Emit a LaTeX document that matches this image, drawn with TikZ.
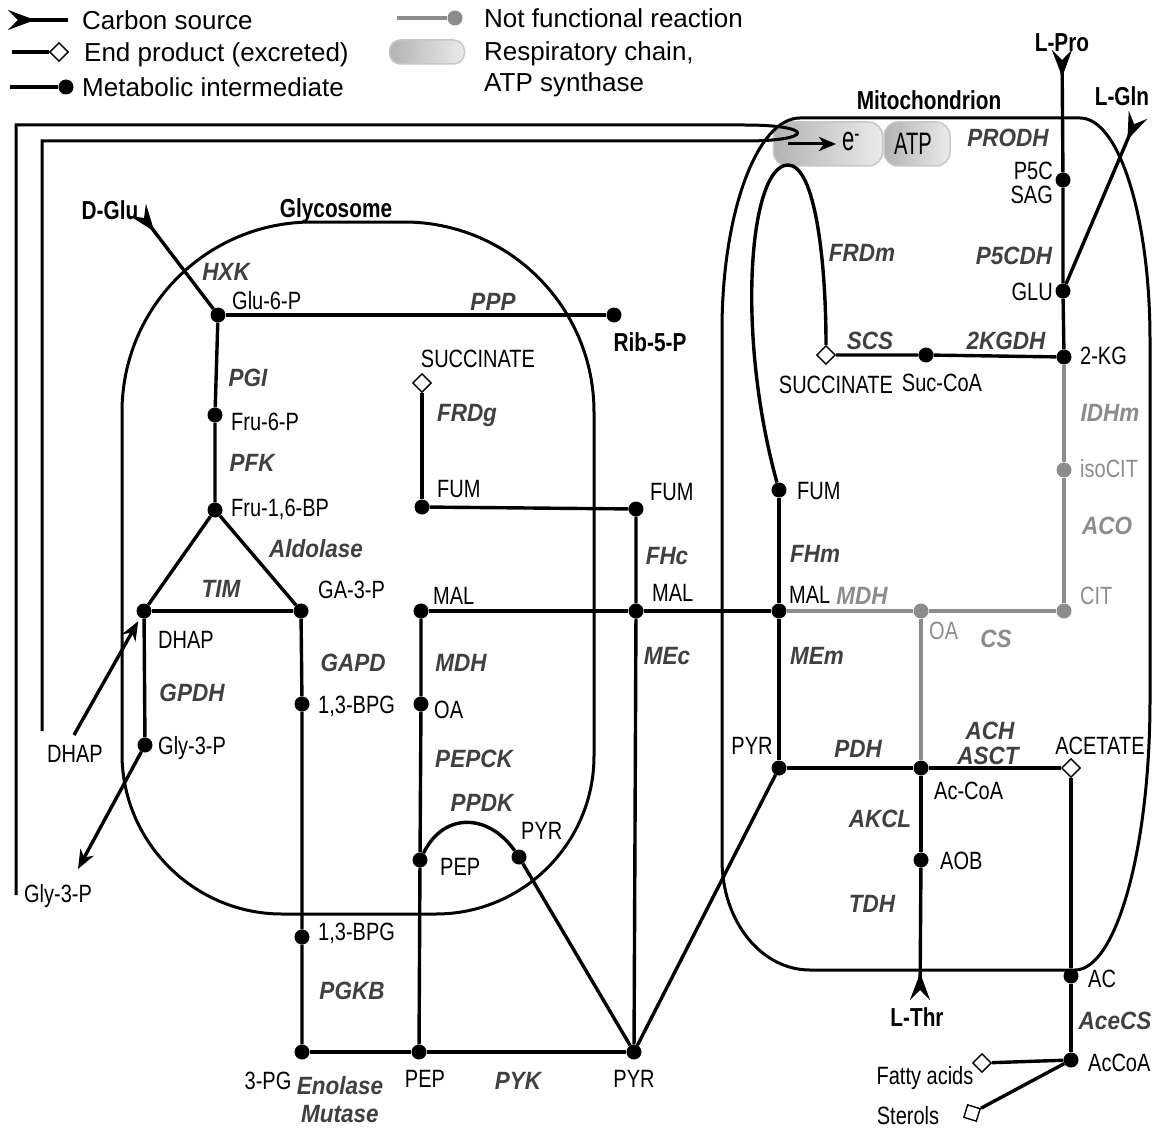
\documentclass[tikz,border=0pt]{standalone}
\usepackage{fontspec}
\setmainfont{Liberation Sans}
\newfontfamily\cond{Liberation Sans}[FakeStretch=0.8]
\newfontfamily\condb{Liberation Sans}[FakeStretch=0.9]
\newfontfamily\narrowf{Liberation Sans}[FakeStretch=0.65]
\usetikzlibrary{arrows.meta,shapes.geometric}
\definecolor{enzc}{RGB}{64,64,64}
\definecolor{nfc}{RGB}{140,140,140}
\begin{document}
\begin{tikzpicture}[x=1pt,y=-1pt,
  pth/.style={line width=3.4pt},
  nf/.style={line width=3.4pt, draw=nfc},
  memb/.style={line width=3pt},
  dot/.style={circle, fill=black, minimum size=15pt, inner sep=0pt},
  gdot/.style={circle, fill=nfc, minimum size=15pt, inner sep=0pt},
  endp/.style={diamond, draw, fill=white, line width=1.4pt, minimum size=19pt, inner sep=0pt},
  src/.style={line width=3.4pt, {Stealth[length=27pt,width=20pt,inset=10pt,reversed]}-},
  exa/.style={line width=3.4pt, -{Stealth[length=19pt,width=15pt,inset=6pt]}},
  pill/.style={rectangle, rounded corners=14pt, left color=black!30, right color=black!8, draw=black!22, line width=1.5pt, inner sep=0pt},
  met/.style={font=\cond\fontsize{25}{28}\selectfont, inner sep=0pt, text height=18pt, text depth=0pt},
  gmet/.style={met, text=nfc},
  enz/.style={font=\condb\bfseries\itshape\fontsize{25}{28}\selectfont, text=enzc, inner sep=0pt, text height=18pt, text depth=0pt},
  genz/.style={enz, text=nfc},
  ttl/.style={font=\cond\bfseries\fontsize{26}{29}\selectfont, inner sep=0pt, text height=18.6pt, text depth=0pt},
  leg/.style={font=\fontsize{26}{30}\selectfont, inner sep=0pt, text height=18.6pt, text depth=0pt, anchor=west}
]
\useasboundingbox (0,0) rectangle (1157,1129);

% ---------- membranes ----------
\draw[memb] (122,412) .. controls (122,307) and (207,222) .. (312,222) -- (404,222)
  .. controls (509,222) and (594,307) .. (594,412) -- (594,756)
  .. controls (594,843) and (523,914) .. (436,914) -- (282,914)
  .. controls (194,914) and (122,842) .. (122,754) -- cycle;
\node[pill, minimum width=109pt, minimum height=44pt] (echain) at (828,144) {};
\node[pill, minimum width=66pt, minimum height=44pt] (atps) at (917,144) {};
\draw[memb] (722,330) .. controls (722,213) and (757,118) .. (800,118) -- (1080,118)
  .. controls (1119,118) and (1150,217) .. (1150,340) -- (1150,700)
  .. controls (1150,849) and (1116,970) .. (1075,970) -- (810,970)
  .. controls (761,970) and (722,921) .. (722,860) -- cycle;
\draw[memb] (16,895) -- (16,125) -- (745,125) .. controls (815,125) and (815,141) .. (745,141) -- (42,141) -- (42,731);

\coordinate (earrA) at (788,144);
\coordinate (earrB) at (836,144);
\draw[line width=3pt, -{Stealth[length=17pt,width=14pt,inset=5pt]}] (earrA) -- (earrB);
\node[font=\narrowf\fontsize{34}{36}\selectfont, inner sep=0pt] (etxt) at (851,142) {e\textsuperscript{-}};
\node[font=\narrowf\fontsize{31}{34}\selectfont, inner sep=0pt, text height=22pt, text depth=0pt] (atptxt) at (913,144) {ATP};

% ---------- legend ----------
\coordinate (lg1a) at (8,20); \coordinate (lg1b) at (68,20);
\draw[src] (lg1a) -- (lg1b);
\node[endp] (lg2d) at (59,52) {}; \coordinate (lg2a) at (12,52);
\draw[pth] (lg2a) -- (lg2d);
\node[dot] (lg3d) at (66,87) {}; \coordinate (lg3a) at (10,87);
\draw[pth] (lg3a) -- (lg3d);
\node[gdot] (lg4d) at (455,18) {}; \coordinate (lg4a) at (397,18);
\draw[nf] (lg4a) -- (lg4d);
\node[pill, minimum width=75pt, minimum height=24pt, rounded corners=11pt] (lg5) at (427,52) {};
\node[leg] (lt1) at (82,20) {Carbon source};
\node[leg] (lt2) at (84,52) {End product (excreted)};
\node[leg] (lt3) at (82,87) {Metabolic intermediate};
\node[leg] (lt4) at (484,18) {Not functional reaction};
\node[leg] (lt5) at (484,51) {Respiratory chain,};
\node[leg] (lt6) at (484,82) {ATP synthase};

% ---------- metabolite nodes ----------
\node[dot] (g6p) at (218,315) {};
\node[dot] (rib) at (614,315) {};
\node[dot] (f6p) at (215,415) {};
\node[dot] (f16bp) at (215,510) {};
\node[dot] (dhap) at (144,611) {};
\node[dot] (ga3p) at (301,611) {};
\node[dot] (gly3p) at (145,745) {};
\node[dot] (bpga) at (302,704) {};
\node[dot] (bpgb) at (302,937) {};
\node[dot] (pg3) at (302,1052) {};
\node[dot] (pepb) at (419,1052) {};
\node[dot] (pyrb) at (634,1052) {};
\node[dot] (malg) at (421,611) {};
\node[dot] (oag) at (421,704) {};
\node[dot] (pepg) at (420,860) {};
\node[dot] (pyrg) at (519,857) {};
\node[dot] (fumg) at (422,507) {};
\node[endp] (succg) at (422,383) {};
\node[dot] (fumc) at (636,509) {};
\node[dot] (malc) at (636,611) {};
\node[dot] (malm) at (779,611) {};
\node[gdot] (oam) at (921,611) {};
\node[gdot] (cit) at (1064,611) {};
\node[gdot] (isocit) at (1064,470) {};
\node[dot] (kg) at (1064,357) {};
\node[dot] (sucoa) at (926,355) {};
\node[endp] (succm) at (826,355) {};
\node[dot] (p5c) at (1063,180) {};
\node[dot] (glu) at (1063,291) {};
\node[dot] (fumm) at (779,490) {};
\node[dot] (pyrm) at (779,768) {};
\node[dot] (accoa) at (921,768) {};
\node[endp] (acet) at (1071,768) {};
\node[dot] (aob) at (921,860) {};
\node[dot] (ac) at (1071,976) {};
\node[dot] (accoab) at (1071,1060) {};
\node[endp] (fatty) at (982,1063) {};
\node[endp, rotate=28] (sterol) at (972,1113) {};

\coordinate (dgluS) at (138,210);
\coordinate (lproS) at (1062,50);
\coordinate (lglnS) at (1138,115);
\coordinate (lthrS) at (920,1000);
\coordinate (dhapS) at (74,735);
\coordinate (gly3E) at (78,869);

% ---------- reactions ----------
\draw[src] (dgluS) -- (g6p);
\draw[pth] (g6p) -- (rib);
\draw[pth] (g6p) -- (f6p) -- (f16bp);
\draw[pth] (f16bp) -- (dhap);
\draw[pth] (f16bp) -- (ga3p);
\draw[pth] (dhap) -- (ga3p);
\draw[pth] (dhap) -- (gly3p);
\draw[exa, shorten >=4pt] (dhapS) -- (dhap);
\draw[exa] (gly3p) -- (gly3E);
\draw[pth] (ga3p) -- (bpga) -- (bpgb) -- (pg3);
\draw[pth] (pg3) -- (pepb) -- (pyrb);
\draw[pth] (malg) -- (oag) -- (pepg) -- (pepb);
\draw[pth] (pepg) .. controls (445,810) and (490,815) .. (pyrg);
\draw[pth] (pyrg) -- (pyrb);
\draw[pth] (fumg) -- (succg);
\draw[pth] (fumg) -- (fumc);
\draw[pth] (fumc) -- (malc) -- (pyrb);
\draw[pth] (malg) -- (malc) -- (malm);
\draw[nf] (malm) -- (oam) -- (cit);
\draw[nf] (cit) -- (isocit) -- (kg);
\draw[nf] (oam) -- (accoa);
\draw[pth] (fumm) -- (malm) -- (pyrm);
\draw[pth] (pyrm) -- (pyrb);
\draw[pth] (fumm) .. controls (735,330) and (750,165) .. (788,165) .. controls (815,165) and (826,260) .. (succm.north);
\draw[pth] (succm) -- (sucoa) -- (kg);
\draw[src] (lproS) -- (p5c);
\draw[pth] (p5c) -- (glu) -- (kg);
\draw[src] (lglnS) -- (glu);
\draw[pth] (pyrm) -- (accoa) -- (acet);
\draw[pth] (accoa) -- (aob);
\draw[src] (lthrS) -- (aob);
\draw[pth] (acet) -- (ac) -- (accoab);
\draw[pth] (accoab) -- (fatty);
\draw[pth] (accoab) -- (sterol);

% ---------- titles ----------
\node[ttl] (tglyc) at (336,208) {Glycosome};
\node[ttl] (tmito) at (929,100) {Mitochondrion};
\node[ttl] (tdglu) at (110,210) {D-Glu};
\node[ttl] (tlpro) at (1062,42) {L-Pro};
\node[ttl] (tlgln) at (1122,96) {L-Gln};
\node[ttl] (tlthr) at (917,1017) {L-Thr};
\node[ttl] (trib) at (650,342) {Rib-5-P};

% ---------- metabolite labels ----------
\node[met, anchor=west] (l1) at (232,300) {Glu-6-P};
\node[met, anchor=west] (l2) at (231,421) {Fru-6-P};
\node[met, anchor=west] (l3) at (231,507) {Fru-1,6-BP};
\node[met, anchor=west] (l4) at (318,589) {GA-3-P};
\node[met, anchor=west] (l5) at (158,639) {DHAP};
\node[met, anchor=west] (l6) at (158,745) {Gly-3-P};
\node[met] (l7) at (75,753) {DHAP};
\node[met] (l8) at (58,893) {Gly-3-P};
\node[met, anchor=west] (l9) at (318,704) {1,3-BPG};
\node[met, anchor=west] (l10) at (318,931) {1,3-BPG};
\node[met] (l11) at (268,1080) {3-PG};
\node[met] (l12) at (425,1078) {PEP};
\node[met] (l13) at (634,1078) {PYR};
\node[met, anchor=west] (l14) at (433,595) {MAL};
\node[met, anchor=west] (l15) at (434,709) {OA};
\node[met, anchor=west] (l16) at (440,866) {PEP};
\node[met, anchor=west] (l17) at (521,830) {PYR};
\node[met] (l18) at (478,358) {SUCCINATE};
\node[met, anchor=west] (l19) at (437,488) {FUM};
\node[met, anchor=west] (l20) at (650,491) {FUM};
\node[met, anchor=west] (l21) at (652,592) {MAL};
\node[met, anchor=west] (l22) at (789,594) {MAL};
\node[gmet, anchor=west] (l23) at (929,630) {OA};
\node[gmet, anchor=west] (l24) at (1080,595) {CIT};
\node[gmet, anchor=west] (l25) at (1080,468) {isoCIT};
\node[met, anchor=west] (l26) at (1080,355) {2-KG};
\node[met] (l27) at (942,382) {Suc-CoA};
\node[met] (l28) at (836,384) {SUCCINATE};
\node[met, anchor=west] (l29) at (797,490) {FUM};
\node[met] (l30) at (752,745) {PYR};
\node[met, anchor=west] (l31) at (934,790) {Ac-CoA};
\node[met] (l32) at (1100,745) {ACETATE};
\node[met, anchor=west] (l33) at (940,860) {AOB};
\node[met, anchor=west] (l34) at (1088,978) {AC};
\node[met, anchor=west] (l35) at (1088,1062) {AcCoA};
\node[met] (l36) at (925,1075) {Fatty acids};
\node[met] (l37) at (908,1115) {Sterols};
\node[met, anchor=east] (l38) at (1053,170) {P5C};
\node[met, anchor=east] (l39) at (1053,195) {SAG};
\node[met, anchor=east] (l40) at (1053,291) {GLU};

% ---------- enzyme labels ----------
\node[enz] (e1) at (226,271) {HXK};
\node[enz] (e2) at (493,301) {PPP};
\node[enz] (e3) at (248,377) {PGI};
\node[enz] (e4) at (252,462) {PFK};
\node[enz] (e5) at (316,548) {Aldolase};
\node[enz] (e6) at (221,588) {TIM};
\node[enz] (e7) at (192,692) {GPDH};
\node[enz] (e8) at (353,662) {GAPD};
\node[enz] (e9) at (352,990) {PGKB};
\node[enz] (e10) at (340,1085) {Enolase};
\node[enz] (e11) at (340,1113) {Mutase};
\node[enz] (e12) at (518,1080) {PYK};
\node[enz] (e13) at (461,662) {MDH};
\node[enz] (e14) at (474,758) {PEPCK};
\node[enz] (e15) at (482,802) {PPDK};
\node[enz] (e16) at (467,412) {FRDg};
\node[enz] (e17) at (667,555) {FHc};
\node[enz] (e18) at (667,655) {MEc};
\node[enz] (e19) at (815,553) {FHm};
\node[enz] (e20) at (817,655) {MEm};
\node[genz] (e21) at (862,595) {MDH};
\node[genz] (e22) at (996,638) {CS};
\node[genz] (e23) at (1110,412) {IDHm};
\node[genz] (e24) at (1107,525) {ACO};
\node[enz] (e25) at (862,252) {FRDm};
\node[enz] (e26) at (870,340) {SCS};
\node[enz] (e27) at (1006,340) {2KGDH};
\node[enz] (e28) at (1008,138) {PRODH};
\node[enz] (e29) at (1014,255) {P5CDH};
\node[enz] (e30) at (858,748) {PDH};
\node[enz] (e31) at (990,730) {ACH};
\node[enz] (e32) at (988,755) {ASCT};
\node[enz] (e33) at (880,818) {AKCL};
\node[enz] (e34) at (872,903) {TDH};
\node[enz] (e35) at (1115,1020) {AceCS};
\end{tikzpicture}
\end{document}
